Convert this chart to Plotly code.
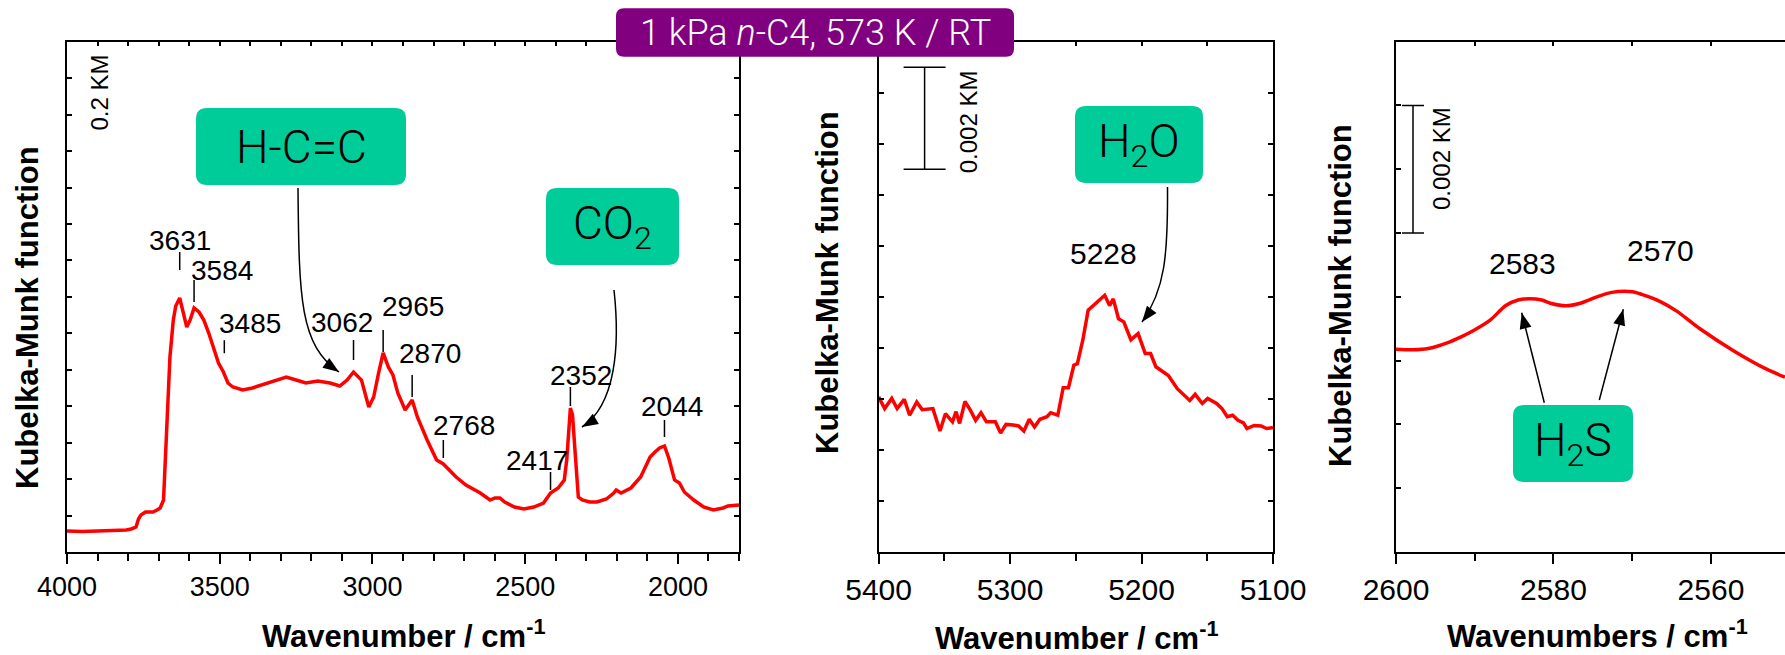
import numpy as np
import plotly.graph_objects as go

W, H = 1785, 655

# ---------------- spectra ----------------
# Panel A: 4000-1800 cm-1 (Kubelka-Munk units)
wn_a = [4000, 3950, 3900, 3850, 3806, 3790, 3774, 3766, 3758, 3743,
        3730, 3719, 3705, 3695, 3684, 3674, 3663, 3652, 3644, 3631,
        3620, 3608, 3597, 3584, 3568, 3552, 3536, 3520, 3504, 3488,
        3473, 3457, 3425, 3393, 3346, 3282, 3250, 3218, 3179, 3139,
        3107, 3083, 3062, 3036, 3012, 2996, 2980, 2965, 2948, 2933,
        2917, 2893, 2870, 2853, 2821, 2790, 2768, 2758, 2726, 2694,
        2647, 2615, 2599, 2583, 2567, 2535, 2504, 2472, 2440, 2417,
        2392, 2372, 2364, 2352, 2345, 2337, 2326, 2313, 2289, 2265,
        2234, 2210, 2202, 2186, 2154, 2122, 2091, 2075, 2060, 2044,
        2030, 2011, 1995, 1979, 1948, 1916, 1884, 1852, 1836, 1800]
km_a = [0.0288, 0.0281, 0.0288, 0.0295, 0.0302, 0.0316, 0.0343, 0.0453, 0.0508, 0.0549,
        0.0549, 0.0549, 0.0576, 0.0604, 0.0713, 0.1632, 0.2675, 0.3182, 0.3374, 0.3484,
        0.3292, 0.3086, 0.3182, 0.3347, 0.3292, 0.3182, 0.3004, 0.2812, 0.2593, 0.2469,
        0.2318, 0.2263, 0.2222, 0.2250, 0.2318, 0.2401, 0.2359, 0.2318, 0.2346, 0.2318,
        0.2277, 0.2359, 0.2469, 0.2359, 0.1989, 0.2126, 0.2455, 0.2730, 0.2538, 0.2428,
        0.2181, 0.1948, 0.2085, 0.1852, 0.1536, 0.1262, 0.1207, 0.1166, 0.1029, 0.0919,
        0.0809, 0.0713, 0.0741, 0.0741, 0.0686, 0.0617, 0.0590, 0.0617, 0.0672, 0.0809,
        0.0878, 0.0988, 0.1262, 0.1975, 0.1879, 0.1399, 0.0754, 0.0713, 0.0686, 0.0686,
        0.0727, 0.0809, 0.0850, 0.0809, 0.0878, 0.1029, 0.1303, 0.1372, 0.1427, 0.1454,
        0.1289, 0.0988, 0.0947, 0.0823, 0.0713, 0.0617, 0.0576, 0.0604, 0.0631, 0.0645]

# Panel B: water combination band region
wn_b = [5400, 5395.4, 5390, 5385.9, 5380.5, 5376.4, 5371, 5366.9, 5358.7, 5353.3,
        5349.2, 5343.8, 5341.1, 5338.4, 5334.3, 5330.2, 5326.2, 5322.1, 5318, 5311.2,
        5307.2, 5303.1, 5297.6, 5293.6, 5289.5, 5285.4, 5281.4, 5277.3, 5271.9, 5269.1,
        5263.7, 5259.6, 5255.6, 5251.5, 5248.8, 5244.7, 5240.6, 5236.6, 5233.8, 5228,
        5224.3, 5221.5, 5217.5, 5213.5, 5208.1, 5202.6, 5197.2, 5193.1, 5189.1, 5183.6,
        5179.6, 5172.8, 5168.7, 5163.3, 5159.2, 5153.8, 5149.7, 5142.9, 5138.8, 5134.8,
        5130.7, 5126.6, 5122.5, 5119.8, 5114.4, 5109, 5104.9, 5100]
km_b = [3.04e-3, 2.81e-3, 3.01e-3, 2.81e-3, 2.99e-3, 2.68e-3, 2.94e-3, 2.79e-3, 2.81e-3, 2.37e-3,
        2.71e-3, 2.55e-3, 2.75e-3, 2.52e-3, 2.95e-3, 2.78e-3, 2.58e-3, 2.73e-3, 2.55e-3, 2.55e-3,
        2.33e-3, 2.50e-3, 2.49e-3, 2.47e-3, 2.37e-3, 2.60e-3, 2.45e-3, 2.60e-3, 2.65e-3, 2.73e-3,
        2.68e-3, 3.22e-3, 3.22e-3, 3.66e-3, 3.69e-3, 4.15e-3, 4.74e-3, 4.83e-3, 4.90e-3, 5.03e-3,
        4.83e-3, 4.96e-3, 4.57e-3, 4.51e-3, 4.16e-3, 4.28e-3, 3.89e-3, 3.89e-3, 3.63e-3, 3.53e-3,
        3.46e-3, 3.20e-3, 3.11e-3, 2.97e-3, 3.09e-3, 2.91e-3, 3.01e-3, 2.91e-3, 2.81e-3, 2.65e-3,
        2.68e-3, 2.58e-3, 2.53e-3, 2.42e-3, 2.48e-3, 2.47e-3, 2.42e-3, 2.44e-3]

# Panel C: S-H stretching region
wn_c = [2600, 2597.8, 2595.9, 2593.5, 2591.8, 2590.2, 2588.0, 2586.1, 2584.5, 2583,
        2581.5, 2580.4, 2578.4, 2576.6, 2574.5, 2572.6, 2570, 2568.8, 2566.5, 2564.4,
        2561.4, 2557.2, 2553.0, 2550.6]
km_c = [3.18e-3, 3.17e-3, 3.19e-3, 3.28e-3, 3.37e-3, 3.47e-3, 3.64e-3, 3.86e-3, 3.95e-3, 3.97e-3,
        3.95e-3, 3.90e-3, 3.86e-3, 3.90e-3, 4.00e-3, 4.07e-3, 4.08e-3, 4.04e-3, 3.93e-3, 3.78e-3,
        3.50e-3, 3.16e-3, 2.87e-3, 2.74e-3]

# peak labels: text, wavenumber, x offset, text y offset, tick start, tick end (px)
peaks_a = [("3631", 3631, 0, 58, 28, 46),
           ("3584", 3584, 28, 38, 6, 28),
           ("3485", 3485, 26, 51, 21, 34),
           ("3062", 3062, -12, 50, 12, 32),
           ("2965", 2965, 30, 46, 1, 23),
           ("2870", 2870, 18, 47, 3, 25),
           ("2768", 2768, 21, 39, 6, 24),
           ("2417", 2417, -14, 33, 3, 21),
           ("2352", 2352, 11, 33, 2, 21),
           ("2044", 2044, 8, 40, 9, 26)]
peaks_b = [("5228", 5228, -1, 42)]
peaks_c = [("2583", 2583, -7, 35), ("2570", 2570, 28, 41)]

# ---------------- helpers ----------------
def X(px):
    return px / W


def Y(py):
    return 1 - py / H


def value_at(w, wn, km):
    return float(np.interp(w, wn[::-1], km[::-1]))


def rrect_path(x0, y0, x1, y1, r):
    return (f"M {X(x0 + r)},{Y(y0)} L {X(x1 - r)},{Y(y0)} Q {X(x1)},{Y(y0)} {X(x1)},{Y(y0 + r)} "
            f"L {X(x1)},{Y(y1 - r)} Q {X(x1)},{Y(y1)} {X(x1 - r)},{Y(y1)} "
            f"L {X(x0 + r)},{Y(y1)} Q {X(x0)},{Y(y1)} {X(x0)},{Y(y1 - r)} "
            f"L {X(x0)},{Y(y0 + r)} Q {X(x0)},{Y(y0)} {X(x0 + r)},{Y(y0)} Z")


def head_path(tip, frm, length=16, half=6):
    dx, dy = tip[0] - frm[0], tip[1] - frm[1]
    n = (dx * dx + dy * dy) ** 0.5
    ux, uy = dx / n, dy / n
    bx, by = tip[0] - ux * length, tip[1] - uy * length
    p1 = (bx - uy * half, by + ux * half)
    p2 = (bx + uy * half, by - ux * half)
    return (f"M {X(tip[0])},{Y(tip[1])} L {X(p1[0])},{Y(p1[1])} "
            f"L {X(p2[0])},{Y(p2[1])} Z")


def curve_path(p0, c1, c2, p1):
    return (f"M {X(p0[0])},{Y(p0[1])} C {X(c1[0])},{Y(c1[1])} "
            f"{X(c2[0])},{Y(c2[1])} {X(p1[0])},{Y(p1[1])}")


SANS = "Liberation Sans, Arial, sans-serif"
LIGHT = "Roboto, Open Sans, sans-serif"
GREEN = "#00CC99"

# panel extents (px)
top_px, bot_px = 41.7, 552
dom_y = [Y(bot_px), Y(top_px)]
dom_a = [X(67), X(739)]
dom_b = [X(878.6), X(1273)]
dom_c = [X(1396), 1.0]

fig = go.Figure()
line = dict(color="#FF0000", width=3.5)
fig.add_trace(go.Scatter(x=wn_a, y=km_a, mode="lines", line=line, xaxis="x", yaxis="y",
                         hoverinfo="skip"))
fig.add_trace(go.Scatter(x=wn_b, y=km_b, mode="lines", line=line, xaxis="x2", yaxis="y2",
                         hoverinfo="skip"))
fig.add_trace(go.Scatter(x=wn_c, y=km_c, mode="lines", line=dict(line, shape="spline", smoothing=0.8),
                         xaxis="x3", yaxis="y3", hoverinfo="skip"))
# carriers for the top tick rows
for xa, ya in (("x4", "y"), ("x5", "y2"), ("x6", "y3")):
    fig.add_trace(go.Scatter(x=[], y=[], xaxis=xa, yaxis=ya, hoverinfo="skip"))


def xaxis(domain, rng, dtick, minor, size, anchor):
    return dict(domain=domain, range=rng, autorange=False, automargin=False, tick0=0, dtick=dtick,
                ticks="outside", ticklen=10, tickwidth=2, tickcolor="black",
                minor=dict(dtick=minor, ticks="outside", ticklen=7, tickwidth=2, tickcolor="black"),
                showline=True, linecolor="black", linewidth=2, mirror=True,
                showgrid=False, zeroline=False, anchor=anchor,
                tickfont=dict(family=SANS, size=size, color="black"))


def topaxis(over, rng, dtick, anchor):
    return dict(overlaying=over, side="top", anchor=anchor, range=rng, autorange=False,
                automargin=False, tick0=0, dtick=dtick, ticks="inside", ticklen=4, tickwidth=1.5,
                tickcolor="black", showticklabels=False, showline=False, showgrid=False,
                zeroline=False)


def yaxis(rng, dtick, anchor, mirror):
    return dict(domain=dom_y, range=rng, autorange=False, automargin=False, tick0=0, dtick=dtick,
                ticks="inside", ticklen=5, tickwidth=1.5, tickcolor="black",
                showticklabels=False, showline=True, linecolor="black", linewidth=2,
                mirror=mirror, showgrid=False, zeroline=False, anchor=anchor)


fig.update_layout(
    width=W, height=H, margin=dict(l=0, r=0, t=0, b=0, pad=0, autoexpand=False),
    paper_bgcolor="white", plot_bgcolor="white", showlegend=False,
    xaxis=xaxis(dom_a, [4000, 1800], 500, 100, 27, "y"),
    xaxis2=xaxis(dom_b, [5400, 5100], 100, 50, 30, "y2"),
    xaxis3=xaxis(dom_c, [2600, 2550.6], 20, 10, 30, "y3"),
    xaxis4=topaxis("x", [4000, 1800], 100, "y"),
    xaxis5=topaxis("x2", [5400, 5100], 50, "y2"),
    xaxis6=topaxis("x3", [2600, 2550.6], 10, "y3"),
    yaxis=yaxis([0, 0.7], 0.05, "x", "ticks"),
    yaxis2=yaxis([0, 0.010], 0.001, "x2", "ticks"),
    yaxis3=yaxis([0, 0.008], 0.001, "x3", False),
)

shapes = []
ann = []
lab_a = dict(family=SANS, size=28, color="black")
lab_bc = dict(family=SANS, size=30, color="black")


def paper_text(text, cx, cy, font, angle=0):
    return dict(x=X(cx), y=Y(cy), xref="paper", yref="paper", text=text, textangle=angle,
                showarrow=False, xanchor="center", yanchor="middle", font=font)


# peak labels with short leader ticks
for text, w, dx, dy, g0, g1 in peaks_a:
    v = value_at(w, wn_a, km_a)
    ann.append(dict(x=w, y=v, xref="x", yref="y", text=text, showarrow=False,
                    xanchor="center", yanchor="middle", xshift=dx, yshift=dy, font=lab_a))
    shapes.append(dict(type="line", xref="x", yref="y", x0=w, x1=w, ysizemode="pixel",
                       yanchor=v, y0=g0, y1=g1, line=dict(color="black", width=1.5)))
for text, w, dx, dy in peaks_b:
    v = value_at(w, wn_b, km_b)
    ann.append(dict(x=w, y=v, xref="x2", yref="y2", text=text, showarrow=False,
                    xanchor="center", yanchor="middle", xshift=dx, yshift=dy, font=lab_bc))
for text, w, dx, dy in peaks_c:
    v = value_at(w, wn_c, km_c)
    ann.append(dict(x=w, y=v, xref="x3", yref="y3", text=text, showarrow=False,
                    xanchor="center", yanchor="middle", xshift=dx, yshift=dy, font=lab_bc))

# axis titles
title_font = dict(family=SANS, size=31, color="black", weight="bold")
for text, cx, cy in (("Wavenumber / cm<sup>-1</sup>", 403, 634),
                     ("Wavenumber / cm<sup>-1</sup>", 1076, 636),
                     ("Wavenumbers / cm<sup>-1</sup>", 1597, 634)):
    ann.append(paper_text(text, cx, cy, title_font))
for cx, cy in ((27, 318), (827, 283), (1340, 296)):
    ann.append(paper_text("Kubelka-Munk function", cx, cy, title_font, -90))

# scale bars
bar_font = dict(family=SANS, size=24, color="black")
ann.append(paper_text("0.2 KM", 99, 92.5, bar_font, -90))
for (cx, half, yref, ylo, yhi, tx, ty) in ((924.6, 21, "y2", 0.0075, 0.0095, 968.6, 121.7),
                                           (1413, 11, "y3", 0.005, 0.007, 1441.7, 158.3)):
    bl = dict(color="black", width=1.5)
    shapes.append(dict(type="line", xref="paper", yref=yref, x0=X(cx), x1=X(cx), y0=ylo, y1=yhi, line=bl))
    for yv in (ylo, yhi):
        shapes.append(dict(type="line", xref="paper", yref=yref, x0=X(cx - half), x1=X(cx + half),
                           y0=yv, y1=yv, line=bl))
    ann.append(paper_text("0.002 KM", tx, ty, bar_font, -90))

# species boxes
box_font = dict(family=LIGHT, size=46, color="black", weight=300)
for text, (x0, y0, x1, y1) in (("H-C=C", (196, 108, 406, 185)),
                               ("CO<sub>2</sub>", (546, 188, 679, 265)),
                               ("H<sub>2</sub>O", (1075, 106, 1203, 183)),
                               ("H<sub>2</sub>S", (1513, 405, 1633, 482))):
    shapes.append(dict(type="path", xref="paper", yref="paper", path=rrect_path(x0, y0, x1, y1, 11),
                       fillcolor=GREEN, line=dict(width=0), layer="above"))
    ann.append(paper_text(text, (x0 + x1) / 2, (y0 + y1) / 2, box_font))

# condition banner
shapes.append(dict(type="path", xref="paper", yref="paper", path=rrect_path(616, 8.3, 1014, 56.7, 8),
                   fillcolor="#800080", line=dict(width=0), layer="above"))
ann.append(paper_text("1 kPa <i>n</i>-C4, 573 K / RT", 815, 32.5,
                      dict(family=LIGHT, size=36, color="white", weight=300)))

# pointer arrows
al = dict(color="black", width=1.5)
curves = [((298, 188), (299, 300), (300, 345), (339, 372), (310, 352)),
          ((614, 290), (620, 345), (616, 405), (582, 427), (606, 413)),
          ((1167.5, 187), (1168, 255), (1165, 290), (1142, 322), (1155, 305))]
for p0, c1, c2, tip, frm in curves:
    shapes.append(dict(type="path", xref="paper", yref="paper", path=curve_path(p0, c1, c2, tip),
                       line=al, layer="above"))
    shapes.append(dict(type="path", xref="paper", yref="paper", path=head_path(tip, frm),
                       fillcolor="black", line=dict(width=0), layer="above"))
for tail, tip in (((1544.3, 402.7), (1521.7, 312.7)), ((1599.3, 400), (1623.3, 309.3))):
    shapes.append(dict(type="line", xref="paper", yref="paper", x0=X(tail[0]), y0=Y(tail[1]),
                       x1=X(tip[0]), y1=Y(tip[1]), line=al, layer="above"))
    shapes.append(dict(type="path", xref="paper", yref="paper", path=head_path(tip, tail),
                       fillcolor="black", line=dict(width=0), layer="above"))

fig.update_layout(shapes=shapes, annotations=ann)
fig.write_html("out.html")
